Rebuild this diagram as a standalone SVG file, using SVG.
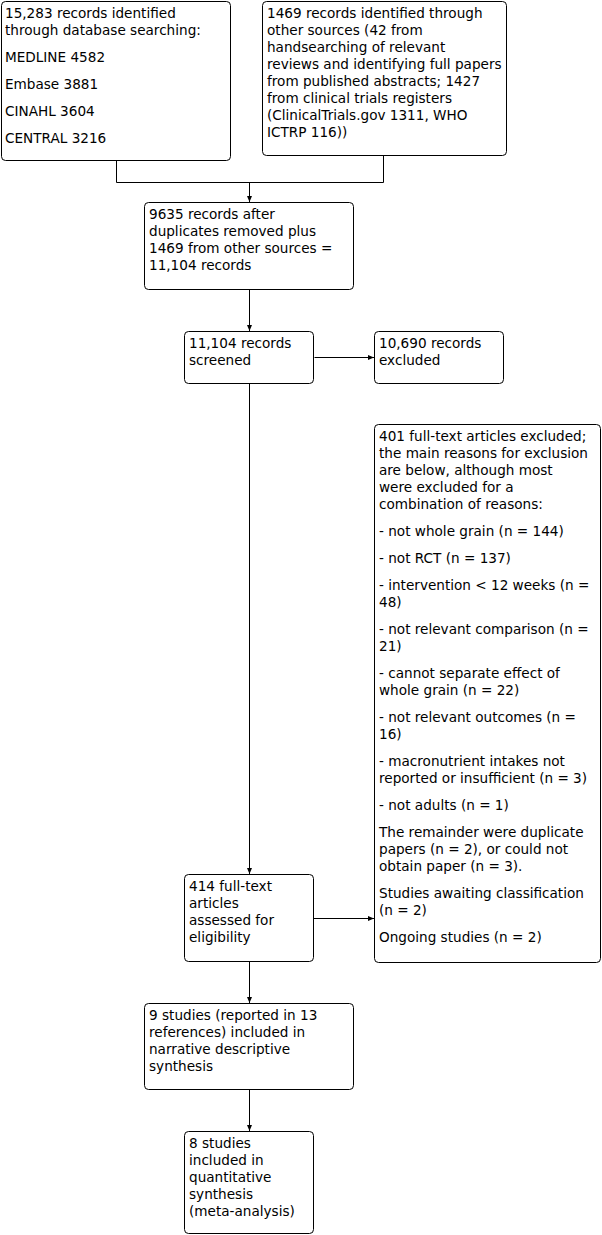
<svg xmlns="http://www.w3.org/2000/svg" width="602" height="1235" viewBox="0 0 602 1235">
<style>
.box{fill:#fff;stroke:#000;stroke-width:1}
.t{font-family:"DejaVu Sans",Verdana,sans-serif;font-size:13.6px;fill:#000}
.c{fill:none;stroke:#000;stroke-width:1}
</style>
<defs>
<marker id="ah" markerUnits="userSpaceOnUse" markerWidth="7" markerHeight="6" refX="6" refY="3" orient="auto">
<path d="M0,0.5 L6,3 L0,5.5 z" fill="#000"/>
</marker>
</defs>
<rect width="602" height="1235" fill="#fff"/>
<g id="connectors">
<path class="c" d="M116.5,160.5 V182.5 H383.5 V155.5"/>
<path class="c" d="M249.5,182.5 V202" marker-end="url(#ah)"/>
<path class="c" d="M249.5,289.5 V331" marker-end="url(#ah)"/>
<path class="c" d="M314.5,357.5 H374" marker-end="url(#ah)"/>
<path class="c" d="M249.5,383.5 V874" marker-end="url(#ah)"/>
<path class="c" d="M313.5,918.5 H374" marker-end="url(#ah)"/>
<path class="c" d="M249.5,961.5 V1003" marker-end="url(#ah)"/>
<path class="c" d="M249.5,1089.5 V1131" marker-end="url(#ah)"/>
</g>
<g id="n1">
<rect class="box" x="1.5" y="1.5" width="229" height="159" rx="4"/>
<text class="t" x="5" y="18">15,283 records identified</text>
<text class="t" x="5" y="35">through database searching:</text>
<text class="t" x="5" y="62">MEDLINE 4582</text>
<text class="t" x="5" y="89">Embase 3881</text>
<text class="t" x="5" y="116">CINAHL 3604</text>
<text class="t" x="5" y="143">CENTRAL 3216</text>
</g>
<g id="n2">
<rect class="box" x="262.5" y="1.5" width="244" height="154" rx="4"/>
<text class="t" x="267" y="18">1469 records identified through</text>
<text class="t" x="267" y="35">other sources (42 from</text>
<text class="t" x="267" y="52">handsearching of relevant</text>
<text class="t" x="267" y="69">reviews and identifying full papers</text>
<text class="t" x="267" y="86">from published abstracts; 1427</text>
<text class="t" x="267" y="103">from clinical trials registers</text>
<text class="t" x="267" y="120">(ClinicalTrials.gov 1311, WHO</text>
<text class="t" x="267" y="137">ICTRP 116))</text>
</g>
<g id="n3">
<rect class="box" x="144.5" y="202.5" width="209" height="87" rx="4"/>
<text class="t" x="149" y="219">9635 records after</text>
<text class="t" x="149" y="236">duplicates removed plus</text>
<text class="t" x="149" y="253">1469 from other sources =</text>
<text class="t" x="149" y="270">11,104 records</text>
</g>
<g id="n4">
<rect class="box" x="184.5" y="331.5" width="129" height="52" rx="4"/>
<text class="t" x="189" y="348">11,104 records</text>
<text class="t" x="189" y="365">screened</text>
</g>
<g id="n5">
<rect class="box" x="374.5" y="331.5" width="129" height="52" rx="4"/>
<text class="t" x="379" y="348">10,690 records</text>
<text class="t" x="379" y="365">excluded</text>
</g>
<g id="n6">
<rect class="box" x="374.5" y="424.5" width="226" height="538" rx="4"/>
<text class="t" x="379" y="441">401 full-text articles excluded;</text>
<text class="t" x="379" y="458">the main reasons for exclusion</text>
<text class="t" x="379" y="475">are below, although most</text>
<text class="t" x="379" y="492">were excluded for a</text>
<text class="t" x="379" y="509">combination of reasons:</text>
<text class="t" x="379" y="536">- not whole grain (n = 144)</text>
<text class="t" x="379" y="563">- not RCT (n = 137)</text>
<text class="t" x="379" y="590">- intervention &lt; 12 weeks (n =</text>
<text class="t" x="379" y="607">48)</text>
<text class="t" x="379" y="634">- not relevant comparison (n =</text>
<text class="t" x="379" y="651">21)</text>
<text class="t" x="379" y="678">- cannot separate effect of</text>
<text class="t" x="379" y="695">whole grain (n = 22)</text>
<text class="t" x="379" y="722">- not relevant outcomes (n =</text>
<text class="t" x="379" y="739">16)</text>
<text class="t" x="379" y="766">- macronutrient intakes not</text>
<text class="t" x="379" y="783">reported or insufficient (n = 3)</text>
<text class="t" x="379" y="810">- not adults (n = 1)</text>
<text class="t" x="379" y="837">The remainder were duplicate</text>
<text class="t" x="379" y="854">papers (n = 2), or could not</text>
<text class="t" x="379" y="871">obtain paper (n = 3).</text>
<text class="t" x="379" y="898">Studies awaiting classification</text>
<text class="t" x="379" y="915">(n = 2)</text>
<text class="t" x="379" y="942">Ongoing studies (n = 2)</text>
</g>
<g id="n7">
<rect class="box" x="184.5" y="874.5" width="129" height="87" rx="4"/>
<text class="t" x="189" y="891">414 full-text</text>
<text class="t" x="189" y="908">articles</text>
<text class="t" x="189" y="925">assessed for</text>
<text class="t" x="189" y="942">eligibility</text>
</g>
<g id="n8">
<rect class="box" x="144.5" y="1003.5" width="209" height="86" rx="4"/>
<text class="t" x="149" y="1020">9 studies (reported in 13</text>
<text class="t" x="149" y="1037">references) included in</text>
<text class="t" x="149" y="1054">narrative descriptive</text>
<text class="t" x="149" y="1071">synthesis</text>
</g>
<g id="n9">
<rect class="box" x="184.5" y="1131.5" width="129" height="102" rx="4"/>
<text class="t" x="189" y="1148">8 studies</text>
<text class="t" x="189" y="1165">included in</text>
<text class="t" x="189" y="1182">quantitative</text>
<text class="t" x="189" y="1199">synthesis</text>
<text class="t" x="189" y="1216">(meta-analysis)</text>
</g>
</svg>
